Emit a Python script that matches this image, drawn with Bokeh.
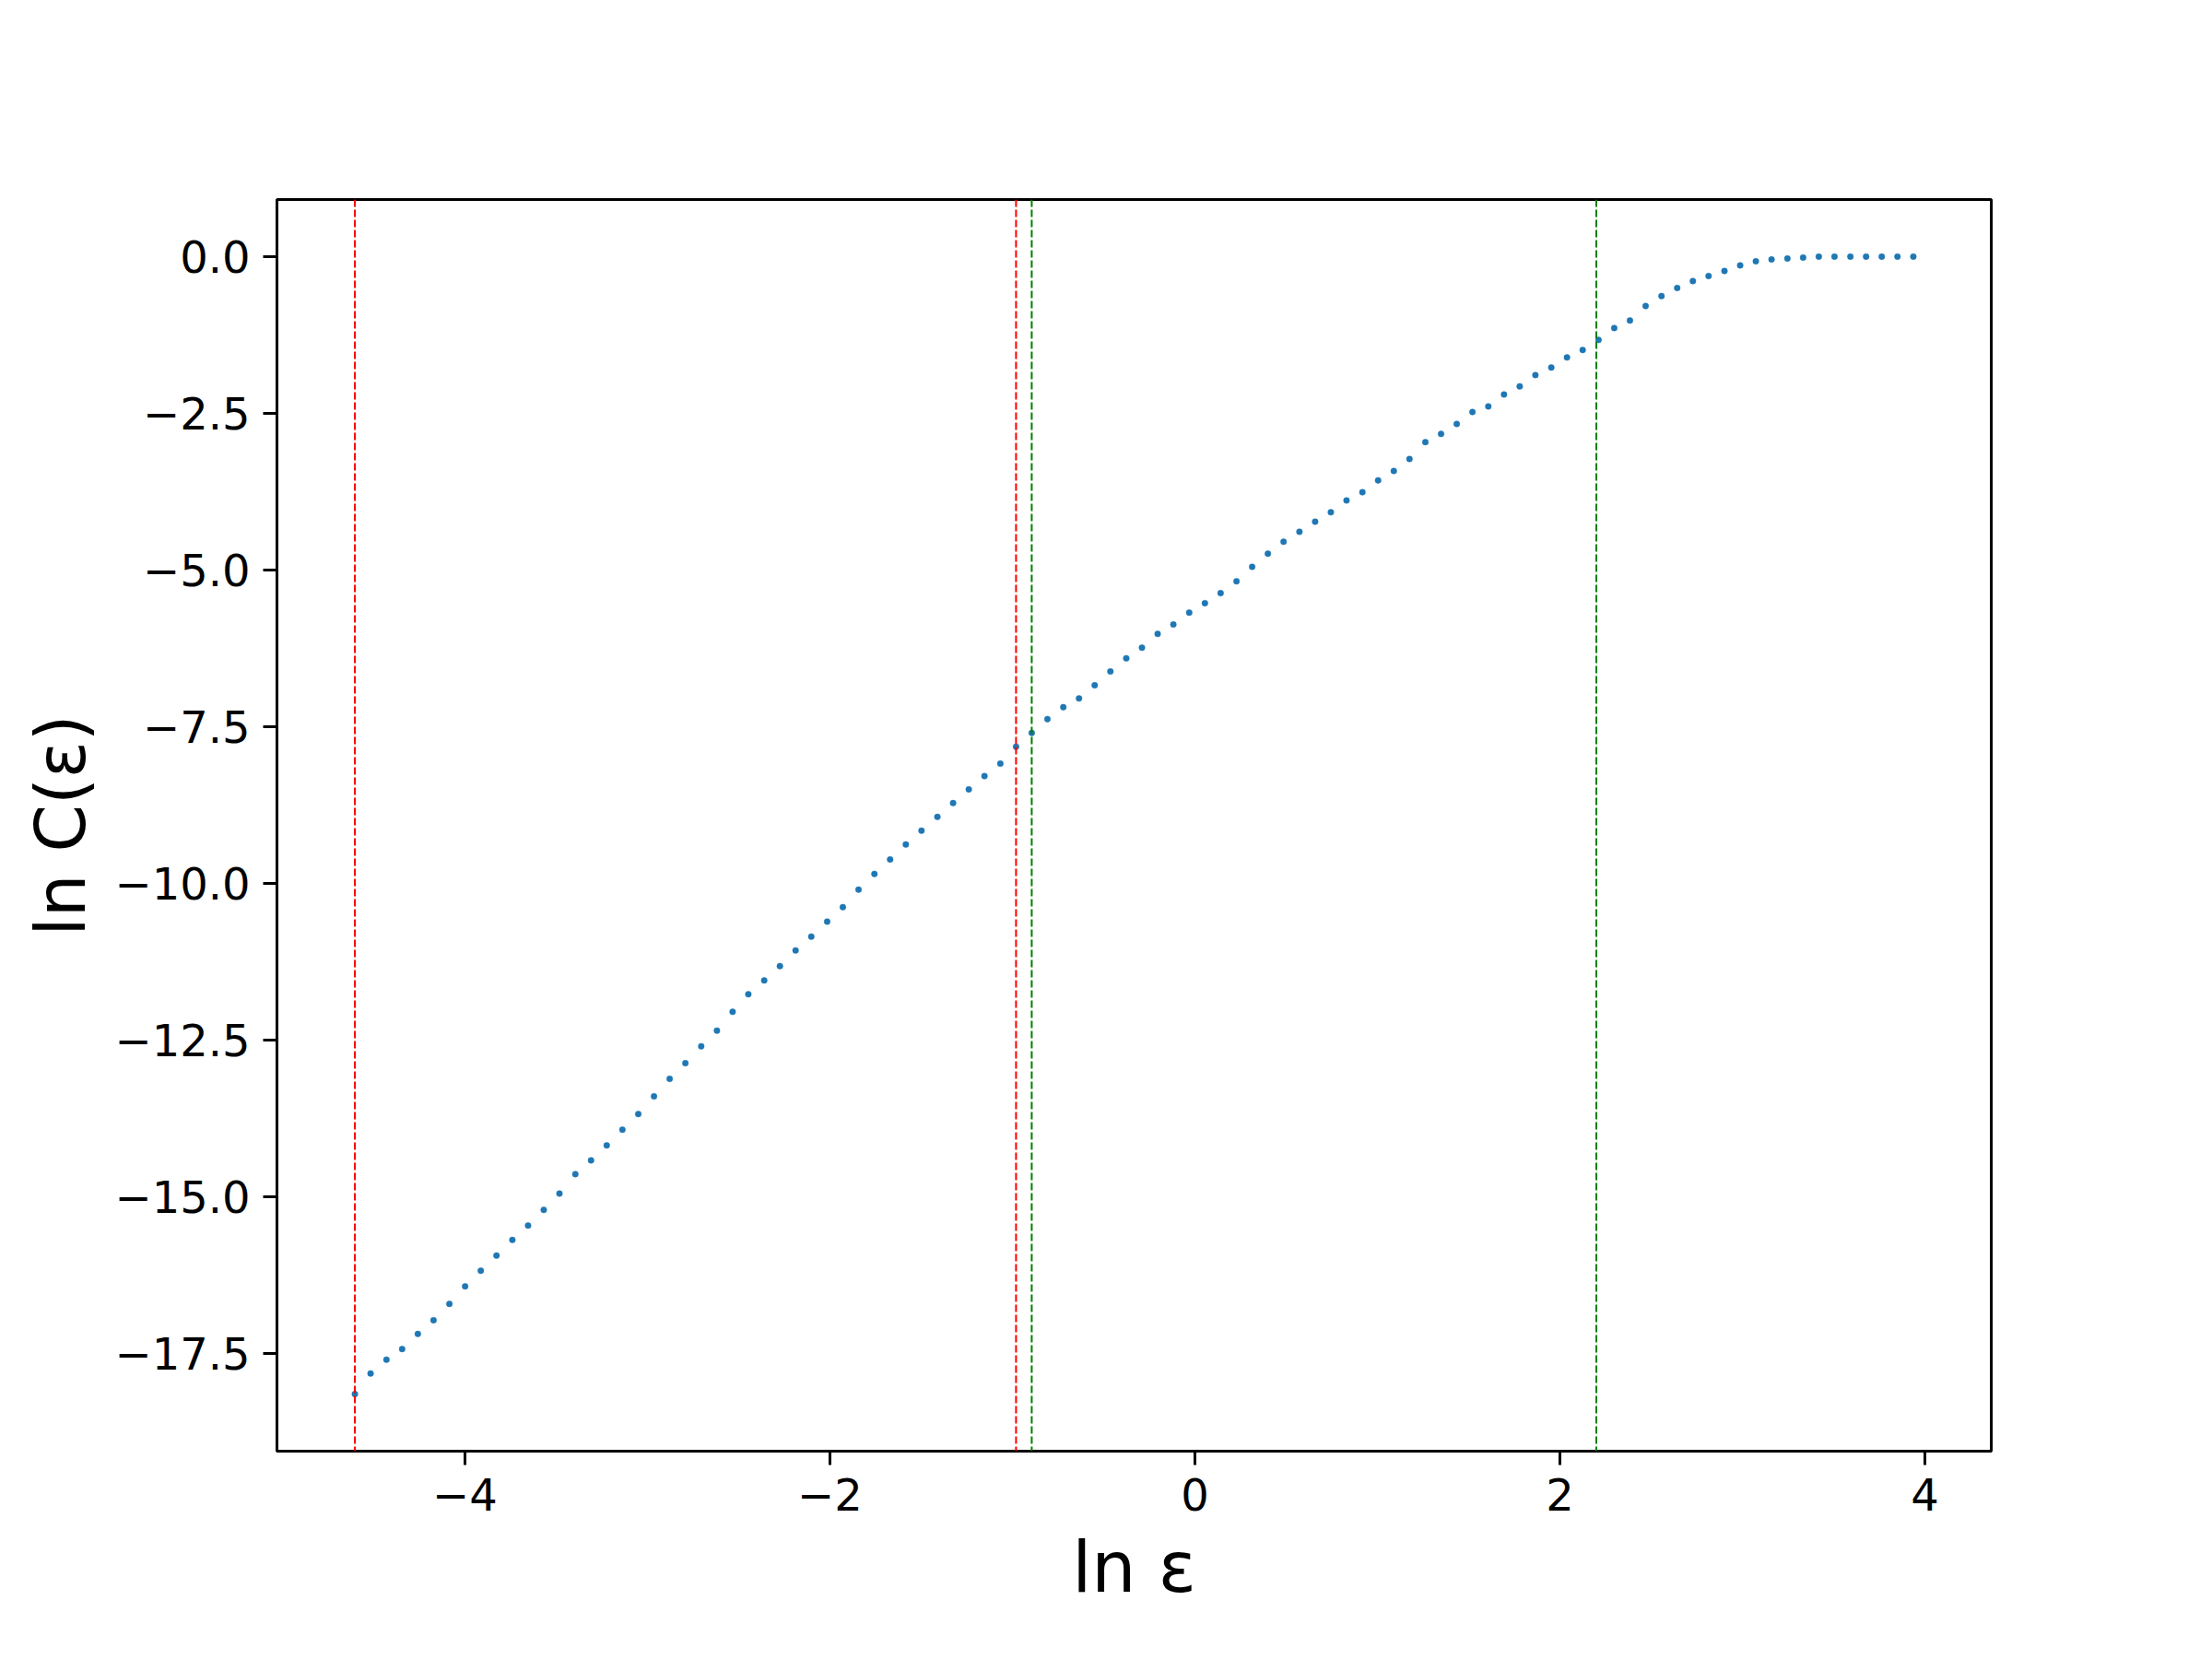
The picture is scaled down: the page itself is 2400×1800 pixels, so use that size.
from bokeh.plotting import figure
from bokeh.models import Range1d, Span, FixedTicker, CustomJSTickFormatter
from bokeh.embed import file_html
from bokeh.resources import INLINE

# ln(epsilon) values of the samples
ln_eps = [
    -4.603, -4.517, -4.430, -4.344, -4.258, -4.172, -4.085, -3.999, -3.913, -3.827,
    -3.740, -3.654, -3.568, -3.482, -3.395, -3.309, -3.223, -3.137, -3.050, -2.964,
    -2.878, -2.792, -2.705, -2.619, -2.533, -2.447, -2.360, -2.274, -2.188, -2.102,
    -2.015, -1.929, -1.843, -1.756, -1.670, -1.584, -1.498, -1.411, -1.325, -1.239,
    -1.153, -1.066, -0.980, -0.894, -0.808, -0.721, -0.635, -0.549, -0.463, -0.376,
    -0.290, -0.204, -0.118, -0.031, 0.055, 0.141, 0.228, 0.314, 0.400, 0.486,
    0.573, 0.659, 0.745, 0.831, 0.918, 1.004, 1.090, 1.176, 1.263, 1.349,
    1.435, 1.521, 1.608, 1.694, 1.780, 1.866, 1.953, 2.039, 2.125, 2.212,
    2.298, 2.384, 2.470, 2.557, 2.643, 2.729, 2.815, 2.902, 2.988, 3.074,
    3.160, 3.247, 3.333, 3.419, 3.505, 3.592, 3.678, 3.764, 3.850, 3.937,
]

# ln C(epsilon) values
ln_C = [
    -18.15, -17.82, -17.60, -17.43, -17.19, -16.97, -16.71, -16.43, -16.18, -15.94,
    -15.69, -15.46, -15.21, -14.95, -14.64, -14.42, -14.18, -13.93, -13.68, -13.40,
    -13.12, -12.87, -12.60, -12.35, -12.05, -11.77, -11.55, -11.32, -11.07, -10.85,
    -10.61, -10.38, -10.10, -9.85, -9.62, -9.38, -9.16, -8.94, -8.72, -8.50,
    -8.29, -8.09, -7.82, -7.60, -7.38, -7.19, -7.05, -6.84, -6.62, -6.41,
    -6.24, -6.02, -5.87, -5.68, -5.53, -5.37, -5.18, -4.95, -4.74, -4.55,
    -4.39, -4.23, -4.08, -3.89, -3.76, -3.57, -3.42, -3.23, -2.96, -2.83,
    -2.67, -2.48, -2.39, -2.20, -2.07, -1.89, -1.77, -1.61, -1.49, -1.33,
    -1.14, -1.02, -0.79, -0.63, -0.50, -0.39, -0.31, -0.23, -0.14, -0.075,
    -0.045, -0.03, -0.015, 0.0, 0.0, 0.0, 0.0, 0.0, 0.0, 0.0,
]

red_lines = [-4.603, -0.980]
green_lines = [-0.894, 2.200]

x_ticks = [-4, -2, 0, 2, 4]
y_ticks = [0.0, -2.5, -5.0, -7.5, -10.0, -12.5, -15.0, -17.5]

FONT = "DejaVu Sans"

p = figure(
    width=2384, height=1784,
    output_backend="svg", toolbar_location=None,
    x_range=Range1d(-5.030, 4.364), y_range=Range1d(-19.06, 0.91),
    min_border_left=300, min_border_right=224, min_border_top=216, min_border_bottom=210,
)
p.background_fill_color = "white"
p.border_fill_color = "white"
p.xgrid.visible = False
p.ygrid.visible = False
p.outline_line_color = "black"
p.outline_line_width = 3
p.outline_line_alpha = 1.0

for ln in red_lines:
    p.add_layout(Span(location=ln, dimension="height", line_color="red",
                      line_dash="8 3", line_width=2))
for ln in green_lines:
    p.add_layout(Span(location=ln, dimension="height", line_color="green",
                      line_dash="8 3", line_width=2))

p.scatter(ln_eps, ln_C, size=6.5, fill_color="#1f77b4", line_color="#1f77b4", line_width=0.5)

p.xaxis.ticker = FixedTicker(ticks=x_ticks)
p.yaxis.ticker = FixedTicker(ticks=y_ticks)
p.xaxis.formatter = CustomJSTickFormatter(code="return tick.toFixed(0).replace('-', '\u2212');")
p.yaxis.formatter = CustomJSTickFormatter(code="return tick.toFixed(1).replace('-', '\u2212');")

for ax in (p.xaxis, p.yaxis):
    ax.axis_line_width = 3
    ax.axis_line_color = "black"
    ax.major_tick_line_width = 3
    ax.major_tick_line_color = "black"
    ax.major_tick_out = 15
    ax.major_tick_in = 0
    ax.minor_tick_out = 0
    ax.minor_tick_in = 0
    ax.major_label_text_font = FONT
    ax.major_label_text_font_size = "48px"
    ax.major_label_text_color = "black"
    ax.axis_label_text_font = FONT
    ax.axis_label_text_font_style = "normal"
    ax.axis_label_text_color = "black"
    ax.major_label_standoff = 14

p.xaxis.axis_label = "ln ε"
p.yaxis.axis_label = "ln C(ε)"
p.xaxis.axis_label_text_font_size = "76px"
p.yaxis.axis_label_text_font_size = "74px"
p.xaxis.axis_label_standoff = 14
p.yaxis.axis_label_standoff = 12

open("out.html", "w").write(file_html(p, INLINE))
